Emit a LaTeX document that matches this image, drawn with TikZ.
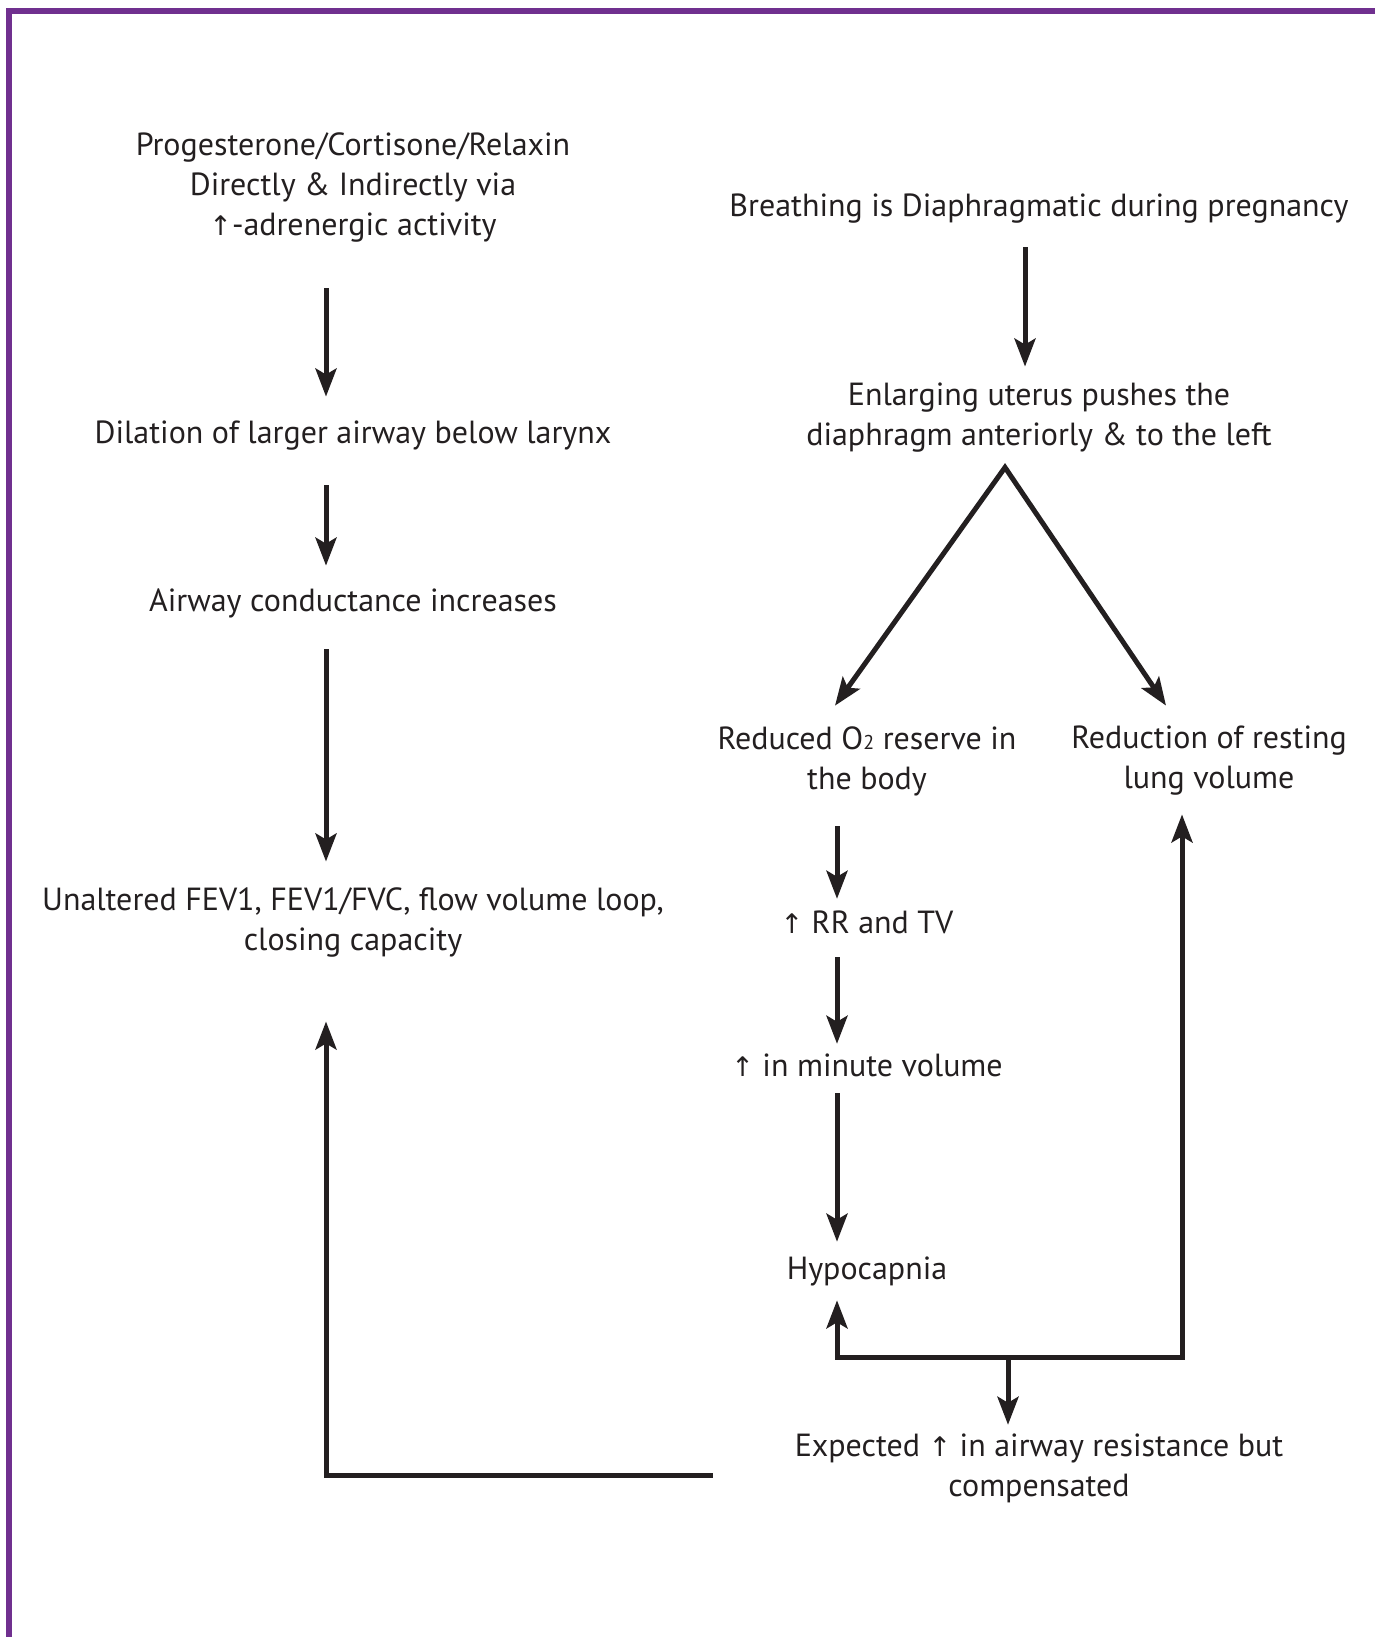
\documentclass[tikz,border=0pt]{standalone}
\usepackage{fontspec}
\setmainfont{PT Sans}
\newfontfamily\arrowfont{DejaVu Sans}
\usetikzlibrary{positioning,calc,arrows.meta}
\definecolor{ink}{HTML}{231F20}
\definecolor{framepurple}{HTML}{70308F}
\newcommand{\upar}{{\arrowfont\fontsize{27}{40}\selectfont ↑}}
\newcommand{\subtwo}{{\fontsize{20}{20}\selectfont 2}}
\begin{document}
\begin{tikzpicture}[x=1pt,y=-1pt,
  font=\fontsize{32}{40}\selectfont, text=ink,
  txt/.style={inner sep=0pt, align=center},
  arr/.style={draw=ink, line width=5pt, -{Stealth[length=28pt,width=21pt,inset=6pt]}},
  arrs/.style={draw=ink, line width=5pt, {Stealth[length=28pt,width=21pt,inset=6pt]}-{Stealth[length=28pt,width=21pt,inset=6pt]}}]
    \useasboundingbox (0,0) rectangle (1375,1637);
    \draw[framepurple, line width=6pt] (9,1637) -- (9,11) -- (1375,11);
    %
    \node[txt] (prog) at (353,188) {Progesterone/Cortisone/Relaxin\\Directly \& Indirectly via\\\upar-adrenergic activity};
    \node[txt] (dil) at (353,436) {Dilation of larger airway below larynx};
    \node[txt] (cond) at (353,603) {Airway conductance increases};
    \node[txt] (unalt) at (353,922) {Unaltered FEV1, FEV1/FVC, flow volume loop,\\closing capacity};
    %
    \node[txt] (breath) at (1039,209) {Breathing is Diaphragmatic during pregnancy};
    \node[txt] (uterus) at (1039,418) {Enlarging uterus pushes the\\diaphragm anteriorly \& to the left};
    \node[txt] (otwo) at (867,761) {Reduced O\subtwo{} reserve in\\the body};
    \node[txt] (lungv) at (1209,761) {Reduction of resting\\lung volume};
    \node[txt] (rrtv) at (867,922) {\upar{} RR and TV};
    \node[txt] (minv) at (867,1065) {\upar{} in minute volume};
    \node[txt] (hypo) at (867,1271) {Hypocapnia};
    \node[txt] (expct) at (1039,1468) {Expected \upar{} in airway resistance but\\compensated};
    %
    \coordinate (colL) at (326,0);
    \coordinate (colR) at (837,0);
    \coordinate (split) at (1008,1357);
    %
    \draw[arr, shorten <=45.5pt, shorten >=24.5pt] (prog.south -| colL) -- (dil.north -| colL);
    \draw[arr, shorten <=34.5pt, shorten >=22.5pt] (dil.south -| colL) -- (cond.north -| colL);
    \draw[arr, shorten <=31.5pt, shorten >=25.5pt] (cond.south -| colL) -- (unalt.north -| colL);
    \draw[arr, shorten >=64.5pt] ([xshift=-82pt,yshift=-7pt]expct.west) -| (unalt.south -| colL);
    %
    \draw[arr, shorten <=23.5pt, shorten >=16.5pt] ([xshift=-14pt]breath.south) -- ([xshift=-14pt]uterus.north);
    \draw[arrs, miter limit=20] ([xshift=-32pt,yshift=20.5pt]otwo.north) -- ([xshift=-34pt,yshift=-14.5pt]uterus.south) -- ([xshift=-43pt,yshift=20.5pt]lungv.north);
    \draw[arr, shorten <=30.5pt, shorten >=11.5pt] (otwo.south -| colR) -- (rrtv.north -| colR);
    \draw[arr, shorten <=23.5pt, shorten >=9.5pt] (rrtv.south -| colR) -- (minv.north -| colR);
    \draw[arr, shorten <=16.5pt, shorten >=14.5pt] (minv.south -| colR) -- (hypo.north -| colR);
    %
    \draw[arr, shorten >=14.5pt] (split) -| (hypo.south -| colR);
    \draw[arr, shorten >=18.5pt] (split) -| ([xshift=-27pt]lungv.south);
    \draw[arr, shorten >=8.5pt] (split) -- (expct.north -| split);
\end{tikzpicture}
\end{document}
